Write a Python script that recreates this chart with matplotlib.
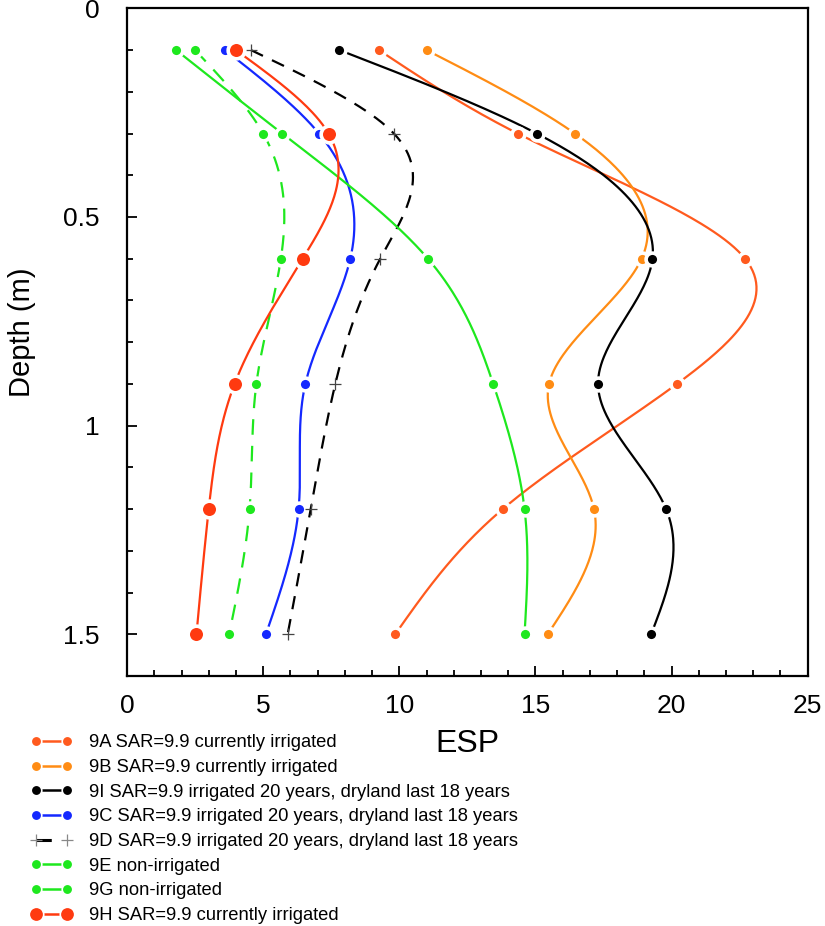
import numpy as np
import matplotlib.pyplot as plt
from matplotlib.lines import Line2D
from matplotlib.ticker import MultipleLocator

plt.rcParams['font.family'] = ['Liberation Sans', 'DejaVu Sans']

depth = [0.1, 0.3, 0.6, 0.9, 1.2, 1.5]

esp_9a = [9.25, 14.35, 22.7, 20.2, 13.8, 9.85]
esp_9b = [11.0, 16.45, 18.9, 15.5, 17.15, 15.45]
esp_9i = [7.8, 15.05, 19.3, 17.3, 19.8, 19.25]
esp_9c = [3.6, 7.05, 8.2, 6.55, 6.3, 5.1]
esp_9d = [4.55, 9.8, 9.3, 7.65, 6.75, 5.9]
esp_9e = [1.8, 5.7, 11.05, 13.45, 14.6, 14.6]
esp_9g = [2.5, 5.0, 5.65, 4.75, 4.5, 3.75]
esp_9h = [4.0, 7.4, 6.45, 3.95, 3.0, 2.55]

labels = ['9A SAR=9.9 currently irrigated',
          '9B SAR=9.9 currently irrigated',
          '9I SAR=9.9 irrigated 20 years, dryland last 18 years',
          '9C SAR=9.9 irrigated 20 years, dryland last 18 years',
          '9D SAR=9.9 irrigated 20 years, dryland last 18 years',
          '9E non-irrigated',
          '9G non-irrigated',
          '9H SAR=9.9 currently irrigated']


def spline(y, x, n=300):
    # natural cubic spline of x as a function of depth
    y = np.asarray(y, float)
    x = np.asarray(x, float)
    h = np.diff(y)
    m = len(y)
    A = np.zeros((m, m))
    b = np.zeros(m)
    A[0, 0] = A[-1, -1] = 1
    for i in range(1, m - 1):
        A[i, i - 1] = h[i - 1]
        A[i, i] = 2 * (h[i - 1] + h[i])
        A[i, i + 1] = h[i]
        b[i] = 6 * ((x[i + 1] - x[i]) / h[i] - (x[i] - x[i - 1]) / h[i - 1])
    M = np.linalg.solve(A, b)
    yy = np.linspace(y[0], y[-1], n)
    k = np.clip(np.searchsorted(y, yy) - 1, 0, m - 2)
    t0 = yy - y[k]
    t1 = y[k + 1] - yy
    hk = h[k]
    xx = (M[k] * t1 ** 3 / (6 * hk) + M[k + 1] * t0 ** 3 / (6 * hk)
          + (x[k] / hk - M[k] * hk / 6) * t1
          + (x[k + 1] / hk - M[k + 1] * hk / 6) * t0)
    return xx, yy


series = [
    (esp_9a, '#ff5a1e', '-', 'o', 9.2, '#ff5a1e'),
    (esp_9b, '#ff8c14', '-', 'o', 9.2, '#ff8c14'),
    (esp_9i, 'black', '-', 'o', 9.2, 'black'),
    (esp_9c, '#1428ff', '-', 'o', 9.2, '#1428ff'),
    (esp_9d, 'black', (0, (6, 4.5)), '+', 9, '#444444'),
    (esp_9e, '#1ee81e', '-', 'o', 9.2, '#1ee81e'),
    (esp_9g, '#1ee81e', (0, (7, 5)), 'o', 9.2, '#1ee81e'),
    (esp_9h, '#ff3a10', '-', 'o', 12, '#ff3a10'),
]

fig = plt.figure(figsize=(8.25, 9.26), dpi=100)
ax = fig.add_axes([0.154, 0.270, 0.825, 0.721])

for vals, col, ls, mk, ms, mc in series:
    xx, yy = spline(depth, vals)
    ax.plot(xx, yy, color=col, ls=ls, lw=1.6, zorder=2)

handles = []
for vals, col, ls, mk, ms, mc in series:
    if mk == '+':
        ax.plot(vals, depth, ls='none', marker='+', ms=ms, mew=0.9,
                color=mc, zorder=3)
        h = Line2D([], [], color=col, ls=(0, (5, 20)), lw=2.2, marker='+',
                   ms=ms, mew=0.9, markeredgecolor='#888888')
    else:
        ax.plot(vals, depth, ls='none', marker='o', ms=ms, mfc=mc,
                mec='white', mew=2.6, zorder=3)
        h = Line2D([], [], color=col, ls='-', lw=1.8, marker='o',
                   ms=ms - 1.6, mfc=mc, mec='white', mew=1.2)
    handles.append(h)

ax.set_xlim(0, 25)
ax.set_ylim(1.6, 0)
ax.xaxis.set_major_locator(MultipleLocator(5))
ax.xaxis.set_minor_locator(MultipleLocator(1))
ax.yaxis.set_major_locator(MultipleLocator(0.5))
ax.yaxis.set_minor_locator(MultipleLocator(0.1))
ax.set_yticks([0, 0.5, 1, 1.5])
ax.set_yticklabels(['0', '0.5', '1', '1.5'])
ax.tick_params(which='both', direction='in', width=1.3, labelsize=19)
ax.tick_params(which='major', length=7)
ax.tick_params(which='minor', length=4)
ax.tick_params(axis='y', pad=20)
ax.tick_params(axis='x', pad=13)
for s in ax.spines.values():
    s.set_linewidth(1.6)

ax.set_xlabel('ESP', fontsize=23, labelpad=8)
ax.set_ylabel('Depth (m)', fontsize=21, labelpad=19, y=0.515)

fig.legend(handles, labels, loc='upper left', bbox_to_anchor=(0.028, 0.215),
           frameon=False, fontsize=13.2, numpoints=2, handlelength=2.3,
           handletextpad=0.9, labelspacing=0.42, borderaxespad=0)

fig.savefig('out.png', dpi=100)
